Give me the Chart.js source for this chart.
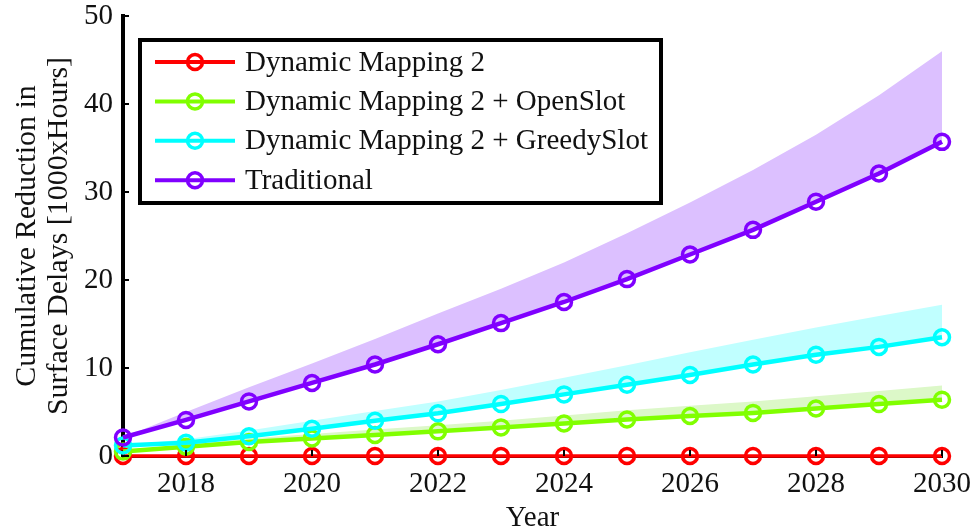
<!DOCTYPE html>
<html>
<head>
<meta charset="utf-8">
<script src="https://cdn.jsdelivr.net/npm/chart.js@4.4.0/dist/chart.umd.min.js"></script>
<style>
html, body { margin: 0; padding: 0; background: #fff; }
#wrap { width: 974px; height: 531px; }
</style>
</head>
<body>
<div id="wrap"><canvas id="reductionChart"></canvas></div>
<script>
const years = [2017, 2018, 2019, 2020, 2021, 2022, 2023, 2024, 2025, 2026, 2027, 2028, 2029, 2030];
const xTicks = [2018, 2020, 2022, 2024, 2026, 2028, 2030];
const yTicks = [0, 10, 20, 30, 40, 50];

const dm2 = [0, 0, 0, 0, 0, 0, 0, 0, 0, 0, 0, 0, 0, 0];
const dm2Open = [0.5, 1.05, 1.6, 2.0, 2.4, 2.8, 3.25, 3.7, 4.15, 4.55, 4.9, 5.4, 5.9, 6.4];
const dm2OpenUpper = [0.5, 1.3, 2.0, 2.5, 3.0, 3.5, 4.0, 4.6, 5.2, 5.7, 6.2, 6.8, 7.4, 8.0];
const dm2Greedy = [1.2, 1.5, 2.25, 3.1, 4.0, 4.85, 5.9, 7.0, 8.1, 9.2, 10.4, 11.5, 12.4, 13.5];
const dm2GreedyUpper = [1.2, 1.9, 2.9, 4.0, 5.1, 6.2, 7.5, 8.9, 10.3, 11.8, 13.2, 14.6, 15.9, 17.2];
const traditional = [2.1, 4.1, 6.2, 8.3, 10.4, 12.7, 15.1, 17.5, 20.1, 22.9, 25.7, 28.9, 32.1, 35.7];
const traditionalUpper = [2.1, 5.0, 7.8, 10.5, 13.3, 16.2, 19.0, 22.0, 25.3, 28.8, 32.5, 36.5, 41.0, 46.0];

const legendNames = ['Dynamic Mapping 2', 'Dynamic Mapping 2 + OpenSlot', 'Dynamic Mapping 2 + GreedySlot', 'Traditional'];

const RED = '#ff0000', GREEN = '#80ff00', CYAN = '#00ffff', PURPLE = '#8000ff';
const FONT = "'Liberation Serif', 'Times New Roman', serif";
const TEXT = '#111';

function pts(arr) {
    return years.map((yr, i) => ({ x: yr, y: arr[i] }));
}

function mainLine(label, arr, color, width) {
    return {
        label: label,
        data: pts(arr),
        borderColor: color,
        borderWidth: width,
        pointRadius: 7.5,
        pointBorderWidth: 3.5,
        pointBorderColor: color,
        pointBackgroundColor: 'rgba(0,0,0,0)',
        fill: false,
        clip: false
    };
}

function band(arr, target, color) {
    return {
        label: '',
        data: pts(arr),
        borderWidth: 0,
        borderColor: 'rgba(0,0,0,0)',
        pointRadius: 0,
        backgroundColor: color,
        fill: { target: target, above: color, below: color }
    };
}

// draws small inward tick marks like matlab
const innerTicks = {
    id: 'innerTicks',
    afterDatasetsDraw(chart) {
        const { ctx, chartArea, scales } = chart;
        ctx.save();
        ctx.strokeStyle = '#000';
        ctx.lineWidth = 2;
        ctx.beginPath();
        yTicks.forEach(v => {
            const y = scales.y.getPixelForValue(v);
            ctx.moveTo(chartArea.left, y);
            ctx.lineTo(chartArea.left + 6, y);
        });
        xTicks.forEach(v => {
            const x = scales.x.getPixelForValue(v);
            ctx.moveTo(x, chartArea.bottom);
            ctx.lineTo(x, chartArea.bottom - 6);
        });
        ctx.stroke();
        ctx.restore();
    }
};

const boxLegend = {
    id: 'boxLegend',
    afterDatasetsDraw(chart) {
        const { ctx, chartArea } = chart;
        const x0 = chartArea.left + 17, y0 = chartArea.top + 24, w = 521, h = 163;
        ctx.save();
        ctx.fillStyle = '#fff';
        ctx.fillRect(x0, y0, w, h);
        ctx.lineWidth = 4;
        ctx.strokeStyle = '#000';
        ctx.strokeRect(x0, y0, w, h);
        const order = [3, 2, 1, 0]; // red, green, cyan, purple
        order.forEach((idx, i) => {
            const ds = chart.data.datasets[idx];
            const y = y0 + 22 + i * 39.4;
            ctx.strokeStyle = ds.borderColor;
            ctx.lineWidth = 4;
            ctx.beginPath();
            ctx.moveTo(x0 + 15, y);
            ctx.lineTo(x0 + 95, y);
            ctx.stroke();
            ctx.lineWidth = 3.5;
            ctx.beginPath();
            ctx.arc(x0 + 55, y, 7.5, 0, Math.PI * 2);
            ctx.stroke();
            ctx.fillStyle = TEXT;
            ctx.font = '29px ' + FONT;
            ctx.textBaseline = 'middle';
            ctx.textAlign = 'left';
            ctx.fillText(legendNames[i], x0 + 105, y + 1);
        });
        ctx.restore();
    }
};

const ctx = document.getElementById('reductionChart').getContext('2d');
const chart = new Chart(ctx, {
    type: 'line',
    data: {
        datasets: [
            mainLine(legendNames[3], traditional, PURPLE, 4.5),
            mainLine(legendNames[2], dm2Greedy, CYAN, 4.5),
            mainLine(legendNames[1], dm2Open, GREEN, 4.5),
            mainLine(legendNames[0], dm2, RED, 3.5),
            band(traditionalUpper, 0, '#dcc0ff'),
            band(dm2GreedyUpper, 1, '#c0ffff'),
            band(dm2OpenUpper, 2, '#dcf8c8')
        ]
    },
    options: {
        responsive: true,
        maintainAspectRatio: false,
        animation: false,
        layout: { padding: { top: 16, right: 32, left: 0, bottom: 0 } },
        plugins: {
            legend: { display: false },
            tooltip: { enabled: false }
        },
        scales: {
            x: {
                type: 'linear',
                min: 2017,
                max: 2030,
                afterBuildTicks: s => { s.ticks = xTicks.map(v => ({ value: v })); },
                afterFit: s => { s.height = 75; s.paddingLeft = 0; s.paddingRight = 0; },
                grid: { display: false, drawTicks: false },
                border: { display: true, color: '#000', width: 3 },
                ticks: {
                    color: TEXT,
                    font: { family: FONT, size: 29 },
                    padding: 11,
                    maxRotation: 0,
                    autoSkip: false,
                    callback: v => String(v)
                },
                title: {
                    display: true,
                    text: 'Year',
                    color: TEXT,
                    font: { family: FONT, size: 29, lineHeight: 0.9 },
                    padding: { top: 0, bottom: 0 }
                }
            },
            y: {
                min: 0,
                max: 50,
                afterBuildTicks: s => { s.ticks = yTicks.map(v => ({ value: v })); },
                afterFit: s => { s.width = 123; s.paddingTop = 0; s.paddingBottom = 0; },
                grid: { display: false, drawTicks: false },
                border: { display: true, color: '#000', width: 4 },
                ticks: {
                    color: TEXT,
                    font: { family: FONT, size: 29 },
                    padding: 10
                },
                title: {
                    display: true,
                    text: ['Cumulative Reduction in', 'Surface Delays [1000xHours]'],
                    color: TEXT,
                    font: { family: FONT, size: 30, lineHeight: 1.04 },
                    padding: { top: 12, bottom: 0 }
                }
            }
        }
    },
    plugins: [innerTicks, boxLegend]
});
</script>
</body>
</html>
